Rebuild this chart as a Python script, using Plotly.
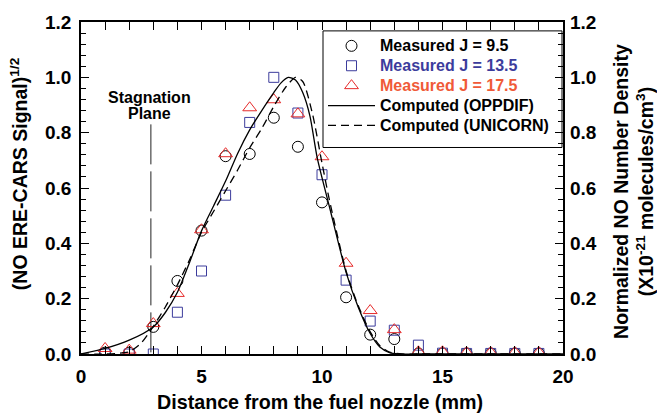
import plotly.graph_objects as go

# ---- data ----
pos = [1, 2, 3, 4, 5, 6, 7, 8, 9, 10, 11, 12, 13, 14, 15, 16, 17, 18, 19]
j95 = [0.005, 0.005, 0.098, 0.264, 0.446, 0.715, 0.723, 0.854, 0.749, 0.548,
       0.205, 0.070, 0.054, 0.002, 0.002, 0.002, 0.002, 0.002, 0.002]
j135 = [0.0, 0.0, 0.0, 0.151, 0.300, 0.574, 0.837, 1.0, 0.871, 0.648,
        0.267, 0.119, 0.086, 0.032, 0.003, 0.002, 0.002, 0.002, 0.002]
j175 = [0.020, 0.014, 0.110, 0.219, 0.449, 0.724, 0.890, 0.919, 0.868, 0.713,
        0.328, 0.157, 0.088, 0.008, 0.008, 0.005, 0.005, 0.005, 0.005]

opp_x = [0, 1, 2, 3, 3.5, 4, 4.5, 5, 5.5, 6, 6.5, 7, 7.5, 8, 8.3, 8.6, 8.9,
         9.2, 9.5, 9.8, 10.3, 11, 11.5, 12, 12.4, 12.8, 13.2, 14, 20]
opp_y = [0, 0.02, 0.05, 0.098, 0.15, 0.223, 0.33, 0.445, 0.535, 0.625, 0.725,
         0.81, 0.88, 0.945, 0.98, 1.0, 0.99, 0.945, 0.86, 0.71, 0.535, 0.295,
         0.17, 0.074, 0.025, 0.005, 0.0, 0.0, 0.0]

uni_x = [0, 1, 1.5, 2, 2.5, 3, 3.5, 4, 4.5, 5, 5.5, 6, 6.5, 7, 7.5, 8, 8.5,
         8.9, 9.2, 9.6, 10.0, 10.3, 11, 11.5, 12, 12.4, 12.8, 13.3, 14, 20]
uni_y = [0, 0.0, 0.002, 0.008, 0.04, 0.10, 0.17, 0.25, 0.34, 0.44, 0.515,
         0.59, 0.665, 0.745, 0.815, 0.895, 0.965, 1.0, 0.985, 0.87, 0.69, 0.56,
         0.30, 0.175, 0.08, 0.03, 0.007, 0.0, 0.0, 0.0]

stag_x = [2.9, 2.9]
stag_y = [0.83, 0.0]

x_ticks = [0, 5, 10, 15, 20]
y_ticks = [0.0, 0.2, 0.4, 0.6, 0.8, 1.0, 1.2]
y_labels = ["0.0", "0.2", "0.4", "0.6", "0.8", "1.0", "1.2"]

FONT = "Liberation Sans, Arial, Helvetica, sans-serif"
BLUE = "#3c3c9c"
RED = "#e62a2a"
RED_TXT = "#f05a38"


def leg(txt, color="black"):
    return f"<span style='font-size:16px;color:{color}'>{txt}</span>"


fig = go.Figure()

fig.add_trace(go.Scatter(x=stag_x, y=stag_y, mode="lines",
                         line=dict(color="#222222", width=1, dash="40px,7px"),
                         showlegend=False, hoverinfo="skip"))

fig.add_trace(go.Scatter(x=pos, y=j95, mode="markers", name=leg("Measured J = 9.5"),
                         marker=dict(symbol="circle-open", size=11, color="black",
                                     line=dict(width=1, color="black"))))
fig.add_trace(go.Scatter(x=pos, y=j135, mode="markers",
                         name=leg("Measured J = 13.5", BLUE),
                         marker=dict(symbol="square-open", size=10, color=BLUE,
                                     line=dict(width=1, color=BLUE))))
fig.add_trace(go.Scatter(x=pos, y=j175, mode="markers",
                         name=leg("Measured J = 17.5", RED_TXT),
                         marker=dict(symbol="triangle-up-open", size=12, color=RED,
                                     line=dict(width=1, color=RED))))
fig.add_trace(go.Scatter(x=opp_x, y=opp_y, mode="lines", name=leg("Computed (OPPDIF)"),
                         line=dict(color="black", width=1.3, shape="spline", smoothing=0.7)))
fig.add_trace(go.Scatter(x=uni_x, y=uni_y, mode="lines",
                         name=leg("Computed (UNICORN)"),
                         line=dict(color="black", width=1.3, dash="8px,5px",
                                   shape="spline", smoothing=0.7)))

axis_common = dict(showline=True, linecolor="black", linewidth=1.5,
                   ticks="inside", ticklen=8, tickwidth=1, tickcolor="black",
                   showgrid=False, zeroline=False)

fig.update_layout(
    width=657, height=414, autosize=False,
    margin=dict(l=81, r=94, t=18, b=60),
    paper_bgcolor="white", plot_bgcolor="white",
    font=dict(family=FONT, size=19, color="black", weight="bold"),
    xaxis=dict(range=[0, 20], tickvals=x_ticks, mirror="allticks",
               minor=dict(dtick=1, ticks="inside", ticklen=5, tickcolor="black"),
               ticklabelstandoff=4, **axis_common),
    yaxis=dict(range=[0, 1.2], tickvals=y_ticks, ticktext=y_labels, mirror="allticks",
               minor=dict(dtick=0.04, ticks="inside", ticklen=5, tickcolor="black"),
               ticklabelstandoff=4, **axis_common),
    yaxis2=dict(range=[0, 1.2], tickvals=y_ticks, ticktext=y_labels, overlaying="y",
                side="right", showline=False, ticks="", showgrid=False, zeroline=False,
                ticklabelstandoff=6),
    legend=dict(x=(323 - 81) / 482, y=(354 - 27) / 336, xanchor="left", yanchor="top",
                borderwidth=0, bgcolor="rgba(0,0,0,0)",
                font=dict(size=13, family=FONT, weight="bold"),
                itemwidth=47, tracegroupgap=0),
    showlegend=True,
)

# legend frame
fig.add_shape(type="rect", xref="paper", yref="paper",
              x0=(323 - 81) / 482, x1=(562 - 81) / 482,
              y0=(354 - 145) / 336, y1=(354 - 27) / 336,
              line=dict(color="black", width=1), fillcolor="rgba(0,0,0,0)", layer="above")

# invisible trace to activate the right axis
fig.add_trace(go.Scatter(x=[None], y=[None], yaxis="y2", showlegend=False, hoverinfo="skip"))

fig.add_annotation(text="Stagnation", x=2.86, y=(354 - 94) / 280, xref="x", yref="y",
                   showarrow=False, font=dict(size=16), xanchor="center", yanchor="middle")
fig.add_annotation(text="Plane", x=2.86, y=(354 - 111) / 280, xref="x", yref="y",
                   showarrow=False, font=dict(size=16), xanchor="center", yanchor="middle")

fig.add_annotation(text="Distance from the fuel nozzle (mm)", xref="paper", yref="paper",
                   x=(320 - 81) / 482, y=(354 - 403) / 336, showarrow=False,
                   xanchor="center", yanchor="middle", font=dict(size=19.7))
fig.add_annotation(text="(NO ERE-CARS Signal)<sup>1/2</sup>", xref="paper", yref="paper",
                   x=(19 - 81) / 482, y=(354 - 172) / 336, showarrow=False, textangle=-90,
                   xanchor="center", yanchor="middle", font=dict(size=19.5))
fig.add_annotation(text="Normalized NO Number Density<br>(X10<sup>-21</sup> molecules/cm<sup>3</sup>)",
                   xref="paper", yref="paper",
                   x=(634 - 81) / 482, y=(354 - 190) / 336, showarrow=False, textangle=-90,
                   xanchor="center", yanchor="middle", font=dict(size=19.5))

fig.write_html("out.html", post_script="document.body.style.margin='0';",
               config={"displayModeBar": False})
